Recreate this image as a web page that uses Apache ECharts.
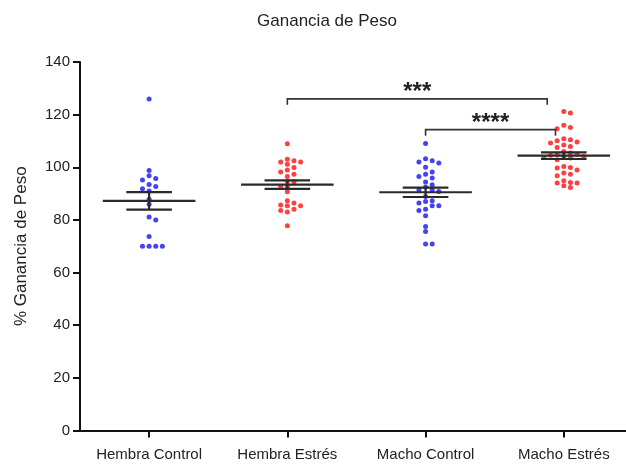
<!DOCTYPE html>
<html>
<head>
<meta charset="utf-8">
<script src="https://cdn.jsdelivr.net/npm/echarts@6/dist/echarts.min.js"></script>
<style>
html,body{margin:0;padding:0;background:#fff;}
#chart{width:626px;height:467px;}
</style>
</head>
<body>
<div id="chart"></div>
<script>
// ---- data ----
const titleText = 'Ganancia de Peso';
const yAxisName = '% Ganancia de Peso';
const categories = ['Hembra Control', 'Hembra Estrés', 'Macho Control', 'Macho Estrés'];
const yTickLabels = ['0', '20', '40', '60', '80', '100', '120', '140'];

const hembraControl = [125.9, 98.8, 96.8, 95.7, 95.2, 93.5, 92.7, 91.8, 91.0, 87.9, 86.0, 81.1, 80.0, 73.7, 70.0, 70.0, 70.0, 70.0];
const hembraEstres = [108.9, 102.0, 102.0, 102.5, 103.1, 101.2, 99.9, 99.0, 98.2, 97.4, 96.5, 94.6, 94.5, 92.7, 92.7, 90.7, 87.3, 86.4, 85.4, 85.4, 85.7, 83.6, 84.1, 83.0, 77.8];
const machoControl = [109.0, 102.0, 102.5, 103.2, 101.6, 100.0, 98.2, 97.4, 96.5, 95.9, 93.4, 94.4, 92.5, 91.4, 91.5, 90.8, 88.9, 87.3, 87.0, 86.4, 85.4, 85.4, 84.1, 83.6, 81.6, 77.5, 75.6, 70.9, 70.9];
const machoEstres = [120.6, 121.2, 115.1, 116.0, 114.6, 110.5, 109.6, 107.9, 110.8, 109.2, 107.5, 110.1, 108.5, 106.0, 105.0, 104.1, 105.4, 103.7, 104.1, 105.0, 103.5, 104.6, 102.9, 99.9, 99.0, 97.4, 99.7, 96.8, 100.3, 97.8, 94.9, 94.0, 94.0, 92.3, 94.2, 93.0];

const groups = [hembraControl, hembraEstres, machoControl, machoEstres];
const groupColors = ['#1414ee', '#ff1010', '#1414ee', '#ff1010'];

// significance brackets
const bracketFrom = ['Hembra Estrés', 'Macho Control'];
const bracketTo = ['Macho Estrés', 'Macho Estrés'];
const bracketLevel = [126, 114.3];
const bracketLabels = ['***', '****'];

// ---- layout helpers ----
const FONT = '"Liberation Sans", Arial, sans-serif';
const xMax = 3.95;
const catPos = categories.map((c, i) => i + 0.5);
const bracketStartInset = [0.0, 0.0];
const bracketEndInset = [0.12, 0.06];

// beeswarm offsets computed from values (no hand-placed coordinates)
function swarm(values) {
  const step = 0.048, minDv = 1.85;
  const order = values.map((v, i) => ({ v, i })).sort((a, b) => b.v - a.v);
  const placed = [];
  const offs = new Array(values.length);
  order.forEach(p => {
    for (let n = 0; n < 20; n++) {
      const k = n === 0 ? 0 : (n % 2 ? (n + 1) / 2 : -n / 2);
      const hit = placed.some(q => q.k === k && Math.abs(q.v - p.v) < minDv);
      if (!hit) { placed.push({ k, v: p.v }); offs[p.i] = k * step; break; }
    }
  });
  return offs;
}

function mean(a) { return a.reduce((s, v) => s + v, 0) / a.length; }
function sem(a) {
  const m = mean(a);
  const sd = Math.sqrt(a.reduce((s, v) => s + (v - m) * (v - m), 0) / (a.length - 1));
  return sd / Math.sqrt(a.length);
}

const series = [];
groups.forEach((vals, gi) => {
  const offs = swarm(vals);
  series.push({
    type: 'scatter',
    symbol: 'circle',
    symbolSize: 5,
    itemStyle: { color: groupColors[gi] },
    data: vals.map((v, i) => [catPos[gi] + offs[i], v]),
    z: 3,
    silent: true
  });
});

// mean ± SEM
const stats = groups.map((vals, gi) => [catPos[gi], mean(vals), sem(vals)]);
series.push({
  type: 'custom',
  data: stats,
  z: 4,
  silent: true,
  renderItem: function (params, api) {
    const x = api.value(0), m = api.value(1), s = api.value(2);
    const halfMean = 0.335, halfSem = 0.165;
    const style = { stroke: '#2a2a2a', lineWidth: 2.2 };
    const p = (a, b) => api.coord([a, b]);
    const seg = (a, b) => ({ type: 'line', shape: { x1: a[0], y1: a[1], x2: b[0], y2: b[1] }, style });
    return {
      type: 'group',
      children: [
        seg(p(x - halfMean, m), p(x + halfMean, m)),
        seg(p(x - halfSem, m + s), p(x + halfSem, m + s)),
        seg(p(x - halfSem, m - s), p(x + halfSem, m - s)),
        seg(p(x, m - s), p(x, m + s))
      ]
    };
  }
});

// significance brackets
const bracketData = bracketFrom.map((f, i) => [
  catPos[categories.indexOf(f)] + bracketStartInset[i],
  catPos[categories.indexOf(bracketTo[i])] - bracketEndInset[i],
  bracketLevel[i],
  i
]);
series.push({
  type: 'custom',
  data: bracketData,
  z: 5,
  silent: true,
  renderItem: function (params, api) {
    const x1 = api.value(0), x2 = api.value(1), y = api.value(2), idx = api.value(3);
    const a = api.coord([x1, y]), b = api.coord([x2, y]);
    const drop = 6;
    const style = { stroke: '#333', lineWidth: 1.6, fill: null };
    return {
      type: 'group',
      children: [
        { type: 'polyline', shape: { points: [[a[0], a[1] + drop], a, b, [b[0], b[1] + drop]] }, style },
        { type: 'text', x: (a[0] + b[0]) / 2, y: a[1] + 6,
          style: { text: bracketLabels[idx], fill: '#222', font: 'bold 24px "Liberation Sans", Arial, sans-serif', align: 'center', verticalAlign: 'bottom' } }
      ]
    };
  }
});

const chart = echarts.init(document.getElementById('chart'), null, { renderer: 'canvas' });
chart.setOption({
  animation: false,
  backgroundColor: '#fff',
  title: {
    text: titleText,
    left: 322,
    top: 8,
    textAlign: 'center',
    textStyle: { fontFamily: FONT, fontSize: 17, fontWeight: 'normal', color: '#222' }
  },
  grid: { left: 80, right: 0, top: 62, bottom: 36.5, containLabel: false },
  xAxis: {
    type: 'value',
    min: 0,
    max: xMax,
    splitLine: { show: false },
    axisLine: { show: true, lineStyle: { color: '#111', width: 2 } },
    axisTick: { show: true, customValues: catPos, length: 7, lineStyle: { color: '#111', width: 2 } },
    axisLabel: {
      customValues: catPos,
      margin: 17,
      fontFamily: FONT, fontSize: 15, color: '#222',
      formatter: v => categories[Math.floor(v)] || ''
    }
  },
  yAxis: {
    type: 'value',
    min: 0,
    max: 140,
    interval: 20,
    name: yAxisName,
    nameLocation: 'middle',
    nameGap: 50,
    nameTextStyle: { fontFamily: FONT, fontSize: 17, color: '#222' },
    splitLine: { show: false },
    axisLine: { show: true, lineStyle: { color: '#111', width: 2 } },
    axisTick: { show: true, length: 7, lineStyle: { color: '#111', width: 2 } },
    axisLabel: {
      margin: 10,
      fontFamily: FONT, fontSize: 15, color: '#222',
      formatter: v => yTickLabels[Math.round(v / 20)]
    }
  },
  series: series
});
</script>
</body>
</html>
